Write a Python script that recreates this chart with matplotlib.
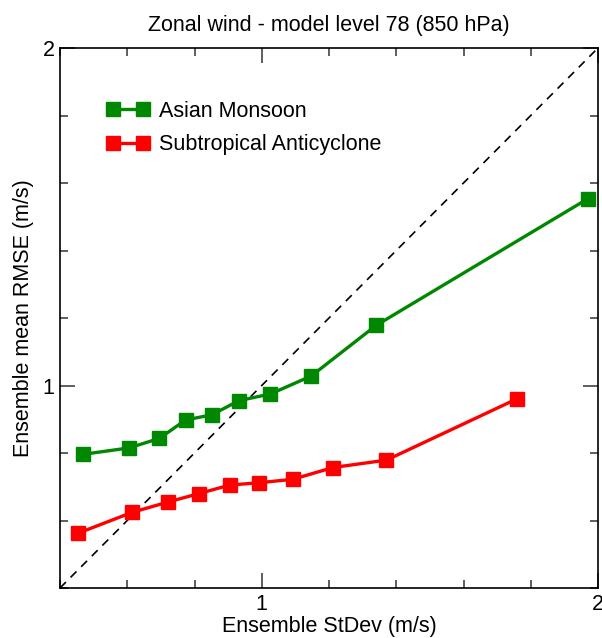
import numpy as np
import matplotlib
matplotlib.use("Agg")
import matplotlib.pyplot as plt

plt.rcParams['font.family'] = ['Liberation Sans', 'DejaVu Sans']

# Datos
monsoon_x = [0.468, 0.605, 0.695, 0.774, 0.851, 0.932, 1.026, 1.147, 1.340, 1.969]
monsoon_y = [0.796, 0.815, 0.843, 0.898, 0.913, 0.955, 0.975, 1.028, 1.178, 1.553]

anticyc_x = [0.453, 0.614, 0.722, 0.814, 0.905, 0.993, 1.092, 1.212, 1.371, 1.760]
anticyc_y = [0.562, 0.624, 0.655, 0.680, 0.705, 0.712, 0.722, 0.757, 0.779, 0.961]

labels = ['Asian Monsoon', 'Subtropical Anticyclone']
colors = ['#008800', '#ff0000']

FS = 15.5

fig = plt.figure(figsize=(6.02, 6.38), dpi=100)
ax = fig.add_axes([60 / 602, 50 / 638, 538 / 602, 540 / 638])

# línea 1:1
ax.plot([0.4, 2.0], [0.4, 2.0], color='black', linestyle='--', linewidth=1.2,
        dashes=(5, 4))

ax.plot(monsoon_x, monsoon_y, color=colors[0], linewidth=2.4, marker='s',
        markersize=9.5, label=labels[0])
ax.plot(anticyc_x, anticyc_y, color=colors[1], linewidth=2.4, marker='s',
        markersize=9.5, label=labels[1])

ax.set_xlim(0.4, 2.0)
ax.set_ylim(0.4, 2.0)
ax.set_xticks([1, 2])
ax.set_yticks([1, 2])
ax.set_xticklabels(['1', '2'])
ax.set_yticklabels(['1', '2'])
ax.set_xticks(np.arange(0.4, 2.01, 0.2), minor=True)
ax.set_yticks(np.arange(0.4, 2.01, 0.2), minor=True)
ax.tick_params(which='both', direction='in', top=True, right=True,
               labelsize=FS, color='#333333')
ax.tick_params(which='major', length=11, width=1.1, pad=4)
ax.tick_params(which='minor', length=5.5, width=1.1)
for sp in ax.spines.values():
    sp.set_linewidth(1.2)

ax.set_xlabel('Ensemble StDev (m/s)', fontsize=FS, labelpad=1)
ax.set_ylabel('Ensemble mean RMSE (m/s)', fontsize=FS, labelpad=6)
ax.set_title('Zonal wind - model level 78 (850 hPa)', fontsize=FS, pad=12)

ax.legend(loc='upper left', bbox_to_anchor=(0.087, 0.902), frameon=False,
          numpoints=2, handlelength=1.96, handletextpad=0.47, borderpad=0,
          borderaxespad=0, labelspacing=0.57, fontsize=FS)

fig.savefig('out.png', dpi=100)
